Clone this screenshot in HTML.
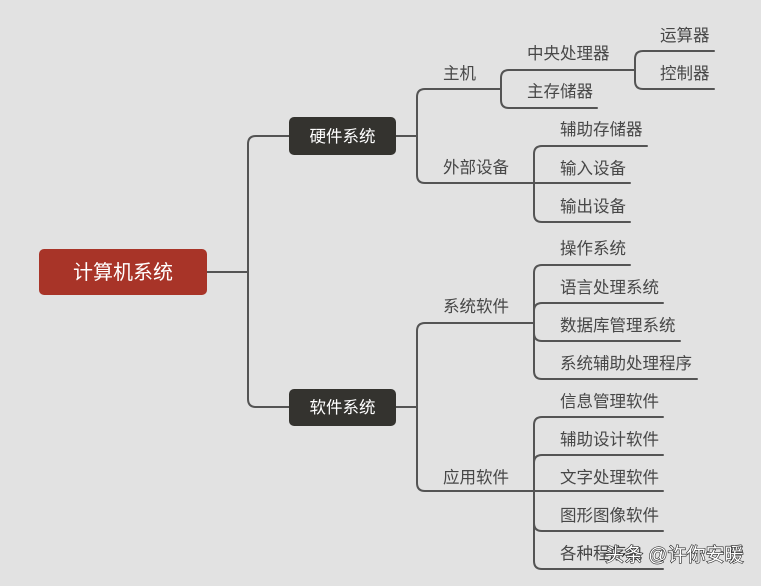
<!DOCTYPE html>
<html><head><meta charset="utf-8"><style>
html,body{margin:0;padding:0;background:#e2e2e2;}
svg{display:block}
text{font-family:"Liberation Sans","Noto Sans CJK SC",sans-serif;font-size:16.5px;fill:#474747;}
</style></head><body>
<svg width="761" height="586" viewBox="0 0 761 586" xmlns="http://www.w3.org/2000/svg">
<rect width="761" height="586" fill="#e2e2e2"/>
<g fill="none" stroke="#545454" stroke-width="2" stroke-linecap="round">
<path d="M207 272 H248"/>
<path d="M289 136 H256 Q248 136 248 144 V399 Q248 407 256 407 H289"/>
<path d="M396 136 H417"/>
<path d="M500 89 H425 Q417 89 417 97 V175 Q417 183 425 183 H630"/>
<path d="M501 89 V78 Q501 70 509 70 H635"/>
<path d="M501 89 V100 Q501 108 509 108 H597"/>
<path d="M635 70 V59 Q635 51 643 51 H714"/>
<path d="M635 70 V81 Q635 89 643 89 H714"/>
<path d="M534 183 V154 Q534 146 542 146 H647"/>
<path d="M534 183 V214 Q534 222 542 222 H630"/>
<path d="M396 407 H417"/>
<path d="M534 323 H425 Q417 323 417 331 V483 Q417 491 425 491 H663"/>
<path d="M534 323 V273 Q534 265 542 265 H630"/>
<path d="M534 311 Q534 303 542 303 H663"/>
<path d="M534 333 Q534 341 542 341 H680"/>
<path d="M534 323 V371 Q534 379 542 379 H697"/>
<path d="M534 491 V425 Q534 417 542 417 H663"/>
<path d="M534 463 Q534 455 542 455 H663"/>
<path d="M534 523 Q534 531 542 531 H663"/>
<path d="M534 491 V561 Q534 569 542 569 H663"/>
</g>
<rect x="39" y="249" width="168" height="46" rx="5" fill="#a83428"/>
<text x="123" y="279" text-anchor="middle" style="font-size:20px;fill:#fff">计算机系统</text>
<rect x="289" y="117" width="107" height="38" rx="5" fill="#34332f"/>
<text x="342.5" y="142" text-anchor="middle" style="fill:#fff">硬件系统</text>
<rect x="289" y="389" width="107" height="37" rx="5" fill="#34332f"/>
<text x="342.5" y="413" text-anchor="middle" style="fill:#fff">软件系统</text>
<text x="443" y="79">主机</text>
<text x="443" y="173">外部设备</text>
<text x="527" y="59">中央处理器</text>
<text x="527" y="97">主存储器</text>
<text x="660" y="41">运算器</text>
<text x="660" y="79">控制器</text>
<text x="560" y="135">辅助存储器</text>
<text x="560" y="174">输入设备</text>
<text x="560" y="212">输出设备</text>
<text x="443" y="312">系统软件</text>
<text x="443" y="483">应用软件</text>
<text x="560" y="254">操作系统</text>
<text x="560" y="293">语言处理系统</text>
<text x="560" y="331">数据库管理系统</text>
<text x="560" y="369">系统辅助处理程序</text>
<text x="560" y="407">信息管理软件</text>
<text x="560" y="445">辅助设计软件</text>
<text x="560" y="483">文字处理软件</text>
<text x="560" y="521">图形图像软件</text>
<text x="560" y="559">各种程序包</text>
<text x="605" y="561" style="font-size:19px;fill:#fff;stroke:#222;stroke-width:1.2;paint-order:stroke">头条 @许你安暖</text>
</svg>
</body></html>
